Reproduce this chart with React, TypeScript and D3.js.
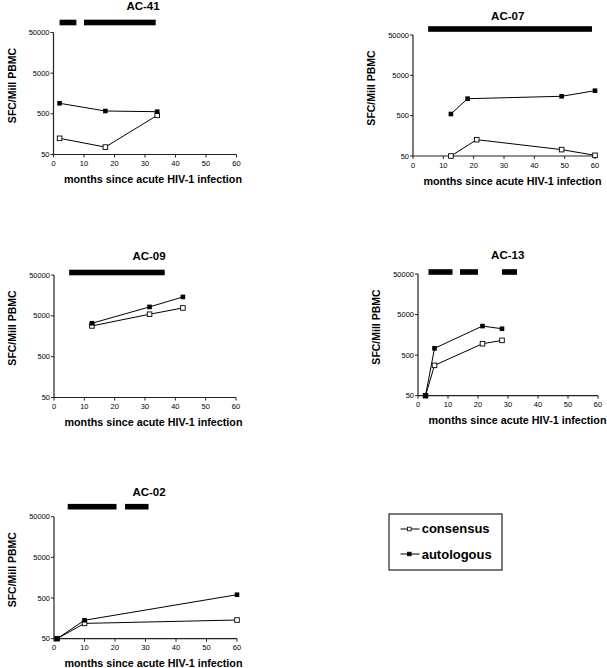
import React from "react";
import * as d3 from "d3";

// ---- data ----
const panelIds = ["AC-41", "AC-07", "AC-09", "AC-13", "AC-02"];

const ac41Months = [2, 17, 34];
const ac41Consensus = [125, 76, 460];
const ac41Autologous = [908, 587, 564];
const ac41Bars = [[2, 7.5], [10, 33.5]];

const ac07ConsMonths = [12.5, 21, 49, 60];
const ac07AutoMonths = [12.5, 18, 49, 60];
const ac07Consensus = [50, 127, 72, 52];
const ac07Autologous = [550, 1318, 1511, 2080];
const ac07Bars = [[5, 59]];

const ac09Months = [12.5, 31.5, 42.5];
const ac09Consensus = [2830, 5470, 7800];
const ac09Autologous = [3290, 8270, 14500];
const ac09Bars = [[5, 36.5]];

const ac13Months = [2.5, 5.5, 21.5, 28];
const ac13Consensus = [50, 280, 955, 1156];
const ac13Autologous = [50, 735, 2605, 2234];
const ac13Bars = [[3.5, 11.5], [14, 20], [28, 33]];

const ac02Months = [1, 10, 60];
const ac02Consensus = [50, 119, 144];
const ac02Autologous = [50, 142, 603];
const ac02Bars = [[4.5, 20.5], [23.3, 31]];

const xTicks = [0, 10, 20, 30, 40, 50, 60];
const yTicks = [50, 500, 5000, 50000];
const xLabel = "months since acute HIV-1 infection";
const yLabel = "SFC/Mill PBMC";
const legendLabels = ["consensus", "autologous"];

// ---- layout ----
const layouts = [
  { left: 53.5, top: 32.5, w: 183, h: 122, titleX: 89.5, titleDy: -22.5, barDy: -10 },
  { left: 413, top: 35, w: 182, h: 121, titleX: 94.7, titleDy: -15, barDy: -6 },
  { left: 54, top: 275, w: 182, h: 122.5, titleX: 95, titleDy: -15, barDy: -2.5 },
  { left: 418, top: 274, w: 180, h: 121.7, titleX: 89.7, titleDy: -14.7, barDy: -2 },
  { left: 54, top: 516.7, w: 183, h: 122, titleX: 95, titleDy: -20.7, barDy: -10 },
];

const panels = [
  { cm: ac41Months, am: ac41Months, c: ac41Consensus, a: ac41Autologous, bars: ac41Bars },
  { cm: ac07ConsMonths, am: ac07AutoMonths, c: ac07Consensus, a: ac07Autologous, bars: ac07Bars },
  { cm: ac09Months, am: ac09Months, c: ac09Consensus, a: ac09Autologous, bars: ac09Bars },
  { cm: ac13Months, am: ac13Months, c: ac13Consensus, a: ac13Autologous, bars: ac13Bars },
  { cm: ac02Months, am: ac02Months, c: ac02Consensus, a: ac02Autologous, bars: ac02Bars },
];

const FONT = "'Liberation Sans', Arial, Helvetica, sans-serif";
const MS = 4.6;

function Panel({ idx }: { idx: number }) {
  const L = layouts[idx];
  const P = panels[idx];
  const x = d3.scaleLinear().domain([0, 60]).range([0, L.w]);
  const y = d3.scaleLog().domain([50, 50000]).range([L.h, 0]);
  const line = d3
    .line<[number, number]>()
    .x((d) => x(d[0]))
    .y((d) => y(d[1]));
  const cons: [number, number][] = P.cm.map((m, i) => [m, P.c[i]]);
  const auto: [number, number][] = P.am.map((m, i) => [m, P.a[i]]);
  return (
    <g transform={`translate(${L.left},${L.top})`}>
      <text
        x={L.titleX}
        y={L.titleDy}
        textAnchor="middle"
        fontFamily={FONT}
        fontWeight="bold"
        fontSize={11.5}
      >
        {panelIds[idx]}
      </text>
      {P.bars.map((b, i) => (
        <rect
          key={i}
          x={x(b[0])}
          y={L.barDy - 2.8}
          width={x(b[1]) - x(b[0])}
          height={5.6}
          fill="#000"
        />
      ))}
      {/* axes */}
      <line x1={0} x2={0} y1={0} y2={L.h} stroke="#222" strokeWidth={1.2} />
      <line x1={0} x2={L.w} y1={L.h} y2={L.h} stroke="#222" strokeWidth={1.2} />
      {yTicks.map((t) => (
        <g key={t}>
          <line x1={-3} x2={0} y1={y(t)} y2={y(t)} stroke="#222" strokeWidth={1} />
          <text
            x={-4}
            y={y(t) + 2.6}
            textAnchor="end"
            fontFamily={FONT}
            fontSize={7.5}
          >
            {t}
          </text>
        </g>
      ))}
      {xTicks.map((t) => (
        <g key={t}>
          <line x1={x(t)} x2={x(t)} y1={L.h} y2={L.h + 3} stroke="#222" strokeWidth={1} />
          <text
            x={x(t)}
            y={L.h + 11.5}
            textAnchor="middle"
            fontFamily={FONT}
            fontSize={7.5}
          >
            {t}
          </text>
        </g>
      ))}
      <text
        x={10.5}
        y={L.h + 28.5}
        fontFamily={FONT}
        fontWeight="bold"
        fontSize={10.7}
        textLength={178}
        lengthAdjust="spacingAndGlyphs"
      >
        {xLabel}
      </text>
      <text
        transform={`translate(-42,53) rotate(-90)`}
        textAnchor="middle"
        dominantBaseline="central"
        fontFamily={FONT}
        fontWeight="bold"
        fontSize={10.5}
      >
        {yLabel}
      </text>
      {/* series */}
      <path d={line(cons) || ""} fill="none" stroke="#000" strokeWidth={1} />
      <path d={line(auto) || ""} fill="none" stroke="#000" strokeWidth={1} />
      {cons.map((d, i) => (
        <rect
          key={"c" + i}
          x={x(d[0]) - MS / 2}
          y={y(d[1]) - MS / 2}
          width={MS}
          height={MS}
          fill="#fff"
          stroke="#000"
          strokeWidth={0.9}
        />
      ))}
      {auto.map((d, i) => (
        <rect
          key={"a" + i}
          x={x(d[0]) - MS / 2}
          y={y(d[1]) - MS / 2}
          width={MS}
          height={MS}
          fill="#000"
        />
      ))}
    </g>
  );
}

function Legend() {
  const rows = [
    { y: 529, ty: 532.5, filled: false },
    { y: 554, ty: 558.5, filled: true },
  ];
  return (
    <g>
      <rect x={389} y={514} width={113} height={56} fill="#fff" stroke="#222" strokeWidth={1.2} />
      {rows.map((r, i) => (
        <g key={i}>
          <line x1={400.5} x2={419.5} y1={r.y} y2={r.y} stroke="#000" strokeWidth={1} />
          <rect
            x={409.3 - 1.8}
            y={r.y - 1.8}
            width={3.6}
            height={3.6}
            fill={r.filled ? "#000" : "#fff"}
            stroke="#000"
            strokeWidth={0.8}
          />
          <text x={421.7} y={r.ty} fontFamily={FONT} fontWeight="bold" fontSize={13}>
            {legendLabels[i]}
          </text>
        </g>
      ))}
    </g>
  );
}

export default function App() {
  return (
    <svg
      width={607}
      height={668}
      style={{ position: "absolute", left: 0, top: 0, background: "#fff" }}
    >
      <rect width={607} height={668} fill="#fff" />
      {panelIds.map((_, i) => (
        <Panel key={i} idx={i} />
      ))}
      <Legend />
    </svg>
  );
}
